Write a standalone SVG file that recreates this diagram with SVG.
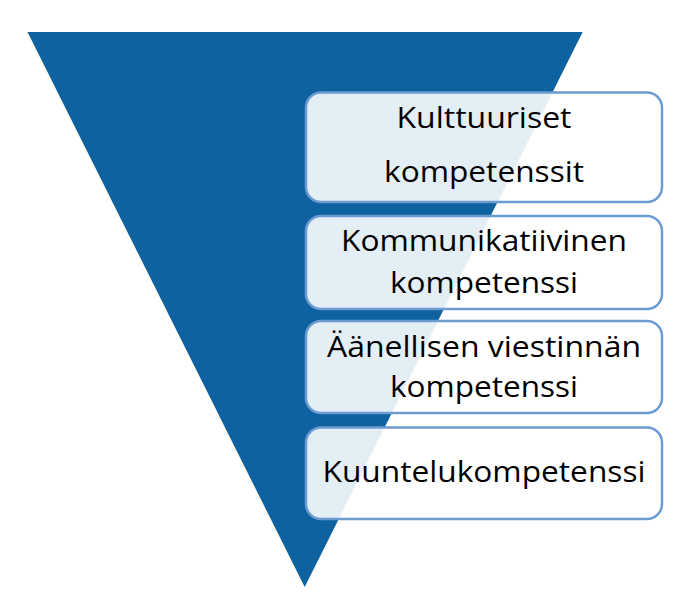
<svg xmlns="http://www.w3.org/2000/svg" width="698" height="610" viewBox="0 0 698 610">
  <style>
    .tri { fill: #0F62A0; }
    .box { fill: #FFFFFF; fill-opacity: 0.89; stroke: #6C9BD2; stroke-width: 2.5; }
    .lbl { font-family: "Open Sans", "Liberation Sans", sans-serif; font-size: 29px; fill: #000000; text-anchor: middle; }
  </style>
  <rect width="698" height="610" fill="#FFFFFF"/>
  <g id="funnel">
    <polygon class="tri" points="27.5,32 582.7,32 304.7,587"/>
  </g>
  <g id="connectors"/>
  <g id="node-kulttuuriset">
    <rect class="box" x="306" y="92.5" width="356" height="109.5" rx="15" ry="15"/>
    <text class="lbl" x="484" y="128" textLength="175" lengthAdjust="spacingAndGlyphs">Kulttuuriset</text>
    <text class="lbl" x="484" y="181.5" textLength="200" lengthAdjust="spacingAndGlyphs">kompetenssit</text>
  </g>
  <g id="node-kommunikatiivinen">
    <rect class="box" x="306" y="216" width="356" height="93" rx="15" ry="15"/>
    <text class="lbl" x="484" y="250.5" textLength="286" lengthAdjust="spacingAndGlyphs">Kommunikatiivinen</text>
    <text class="lbl" x="484" y="293" textLength="188" lengthAdjust="spacingAndGlyphs">kompetenssi</text>
  </g>
  <g id="node-aanellisen">
    <rect class="box" x="306" y="321" width="356" height="92" rx="15" ry="15"/>
    <text class="lbl" x="484" y="356.5" textLength="314" lengthAdjust="spacingAndGlyphs">Äänellisen viestinnän</text>
    <text class="lbl" x="484" y="397" textLength="188" lengthAdjust="spacingAndGlyphs">kompetenssi</text>
  </g>
  <g id="node-kuuntelu">
    <rect class="box" x="306" y="427.5" width="356" height="91.5" rx="15" ry="15"/>
    <text class="lbl" x="484" y="481.5" textLength="323" lengthAdjust="spacingAndGlyphs">Kuuntelukompetenssi</text>
  </g>
</svg>
